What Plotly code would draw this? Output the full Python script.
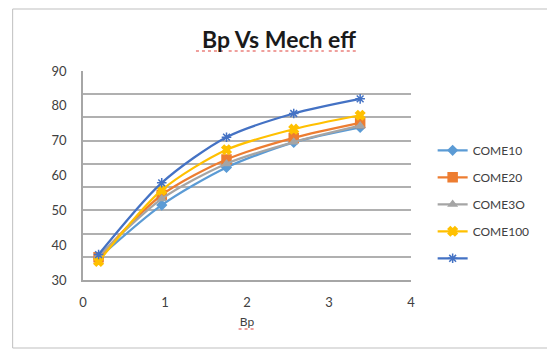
import plotly.graph_objects as go

bp = [0.19, 0.96, 1.75, 2.57, 3.38]
series_names = ["COME10", "COME20", "COME3O", "COME100", " "]
come10 = [36.3, 51.5, 62.3, 69.5, 73.8]
come20 = [36.5, 54.4, 64.6, 70.8, 75.1]
come30 = [36.9, 53.3, 63.4, 69.6, 74.3]
come100 = [35.3, 55.8, 67.4, 73.3, 77.3]
series5 = [37.3, 57.9, 71.0, 77.8, 82.0]
x_ticks = [0, 1, 2, 3, 4]
y_ticks = [30, 40, 50, 60, 70, 80, 90]

colors = ["#5B9BD5", "#ED7D31", "#A5A5A5", "#FFC000", "#4472C4"]
symbols = ["diamond", "square", "triangle-up", "x", "asterisk-open"]
msizes = [7, 9, 7, 8, 8]
all_y = [come10, come20, come30, come100, series5]

fig = go.Figure()
for i, (name, ys) in enumerate(zip(series_names, all_y)):
    fig.add_trace(go.Scatter(
        x=bp, y=ys, name=name, mode="lines+markers",
        legendgroup="g%d" % i,
        line=dict(color=colors[i], width=2.25, shape="spline", smoothing=0.8),
        marker=dict(symbol=symbols[i], size=msizes[i], color=colors[i],
                    line=dict(color=colors[i], width=1.5)),
    ))

# helper axis for the horizontal gridlines (9 equal bands)
fig.add_trace(go.Scatter(x=[], y=[], yaxis="y2", showlegend=False, hoverinfo="skip"))

# spell-check style underlines (decoration), in pixel -> paper conversion
L, R, T, B = 83, 414, 71, 280
def px(xp):
    return (xp - L) / (R - L)
def py(yp):
    return (B - yp) / (B - T)

squiggles = [(197, 225, 51), (230, 258, 51), (263, 326, 51), (331, 361, 51), (240, 256, 329)]
shapes = [dict(type="rect", xref="paper", yref="paper",
               x0=px(12), x1=1.5, y0=py(348), y1=py(9),
               line=dict(color="#bfbfbf", width=1), layer="below")]
for x0, x1, yy in squiggles:
    shapes.append(dict(type="line", xref="paper", yref="paper",
                       x0=px(x0), x1=px(x1), y0=py(yy), y1=py(yy),
                       line=dict(color="#e0403a", width=1.2, dash="dot")))

font = "Lato, 'Open Sans', sans-serif"
fig.update_layout(
    width=547, height=350,
    margin=dict(l=L, r=547 - R, t=T, b=350 - B),
    paper_bgcolor="white", plot_bgcolor="white",
    font=dict(family=font, size=12, color="#404040"),
    title=dict(text="<b>Bp Vs Mech eff</b>", x=0.51, xanchor="center",
               y=0.885, yanchor="middle",
               font=dict(family=font, size=23, color="#1a1a1a")),
    xaxis=dict(range=[0, 4], tickvals=x_ticks, showgrid=False, zeroline=False,
               showline=True, linecolor="#a6a6a6", linewidth=1.5,
               ticks="outside", ticklen=10, tickcolor="rgba(0,0,0,0)",
               tickfont=dict(size=13, color="#404040"),
               title=dict(text="Bp", standoff=8, font=dict(size=12, color="#404040"))),
    yaxis=dict(range=[30, 90], tickvals=y_ticks, showgrid=False, zeroline=False,
               showline=True, linecolor="#a6a6a6", linewidth=1.5,
               ticks="outside", ticklen=12, tickcolor="rgba(0,0,0,0)",
               tickfont=dict(size=13, color="#404040")),
    yaxis2=dict(range=[0, 9], dtick=1, overlaying="y", showgrid=True,
                gridcolor="#b0b0b0", gridwidth=1.5, showticklabels=False,
                zeroline=False, showline=False, ticks=""),
    legend=dict(x=1.066, y=0.69, xanchor="left", yanchor="top",
                traceorder="grouped", tracegroupgap=8,
                font=dict(size=12, color="#404040"), bgcolor="rgba(0,0,0,0)"),
    shapes=shapes,
)

fig.write_html("out.html")
